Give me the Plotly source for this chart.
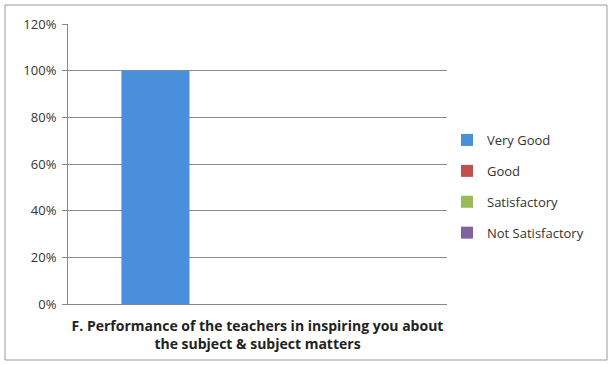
import plotly.graph_objects as go

categories = ["<b>F. Performance of the teachers in inspiring you about<br>the subject & subject matters</b>"]
series_names = ["Very Good", "Good", "Satisfactory", "Not Satisfactory"]
series_values = [[1.0], [0.0], [0.0], [0.0]]
series_colors = ["#4a8fdc", "#c0504d", "#9bbb59", "#8064a2"]
y_ticks = [0, 0.2, 0.4, 0.6, 0.8, 1.0, 1.2]
y_tick_labels = ["0%", "20%", "40%", "60%", "80%", "100%", "120%"]

fig = go.Figure()
for name, vals, col in zip(series_names, series_values, series_colors):
    fig.add_trace(go.Bar(x=categories, y=vals, name=name, marker_color=col,
                         marker_line_width=0, legendgroup=name))

W, H = 609, 365
L, R, T, B = 68, 162, 24, 61
pw, ph = W - L - R, H - T - B

def px_x(p):
    return (p - L) / pw

def px_y(p):
    return (H - B - p) / ph

fig.update_layout(
    width=W, height=H,
    margin=dict(l=L, r=R, t=T, b=B, autoexpand=False),
    paper_bgcolor="white", plot_bgcolor="white",
    font=dict(family="Open Sans", size=12, color="#333333"),
    barmode="group", bargap=0.282, bargroupgap=0,
    showlegend=True,
    legend=dict(x=px_x(447), y=px_y(125), xanchor="left", yanchor="top",
                traceorder="grouped", tracegroupgap=11,
                font=dict(size=13, color="#333333"), bgcolor="rgba(0,0,0,0)"),
    xaxis=dict(showline=True, linecolor="#888888", linewidth=1, ticks="",
               tickfont=dict(size=14, color="#222222"), ticklabelstandoff=9),
    yaxis=dict(range=[0, 1.2], tickvals=y_ticks, ticktext=y_tick_labels,
               showgrid=True, gridcolor="#8c8c8c", gridwidth=1,
               showline=True, linecolor="#888888", linewidth=1,
               ticks="outside", ticklen=5, tickcolor="#888888",
               zeroline=False, tickfont=dict(size=13, color="#333333"),
               ticklabelstandoff=3),
    shapes=[dict(type="rect", xref="paper", yref="paper",
                 x0=px_x(5), x1=px_x(607), y0=px_y(360), y1=px_y(5),
                 line=dict(color="#9a9a9a", width=1), fillcolor="rgba(0,0,0,0)",
                 layer="below")],
)

fig.write_html("out.html", config={"displayModeBar": False},
               post_script="document.body.style.margin='0';")
